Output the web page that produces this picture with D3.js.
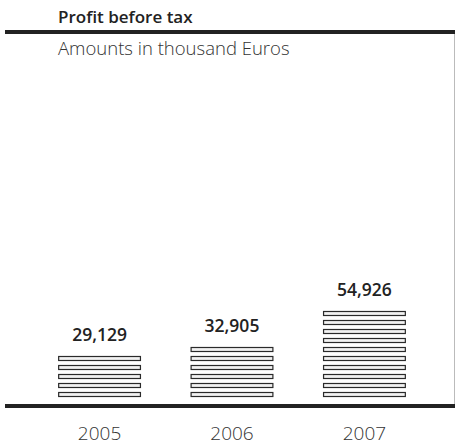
<!DOCTYPE html>
<html>
<head>
<meta charset="utf-8">
<script src="https://cdn.jsdelivr.net/npm/d3@7"></script>
<style>
  body { margin: 0; background: #fff; }
  text { font-family: "Open Sans", "Noto Sans", sans-serif; fill: #222; }
</style>
</head>
<body>
<div id="chart-area"></div>
<script>
const years = ['2005', '2006', '2007'];
const profits = [29129, 32905, 54926];
const title = 'Profit before tax';
const subtitle = 'Amounts in thousand Euros';

const chartSize = { width: 455, height: 448 };
const baseY = 399;
const pitch = 9;

const svg = d3.select('#chart-area').append('svg')
  .attr('width', chartSize.width)
  .attr('height', chartSize.height);

svg.append('text')
  .attr('x', 58).attr('y', 23)
  .style('font-size', '17px').style('font-weight', 600)
  .text(title);

svg.append('text')
  .attr('x', 58).attr('y', 55)
  .style('font-size', '18.5px').style('font-weight', 300).style('fill', '#333')
  .text(subtitle);

// frame lines
svg.append('line')
  .attr('x1', 454.5).attr('x2', 454.5).attr('y1', 32).attr('y2', 405)
  .attr('stroke', '#bbb').attr('stroke-width', 1);
svg.append('line')
  .attr('x1', 5).attr('x2', 455).attr('y1', 32).attr('y2', 32)
  .attr('stroke', '#222').attr('stroke-width', 4);

const x = d3.scaleBand()
  .domain(years)
  .range([33, 431])
  .paddingInner(0.375)
  .paddingOuter(0.19);

const y = d3.scaleLinear()
  .domain([0, 54926])
  .range([baseY, baseY - 90]);

const data = years.map((yr, i) => ({ year: yr, value: profits[i] }));

const bars = svg.selectAll('.bar')
  .data(data)
  .enter().append('g')
  .attr('class', 'bar')
  .attr('transform', d => `translate(${x(d.year)},0)`);

// each bar is a stack of thin outlined stripes
bars.each(function (d) {
  const n = Math.round((y(0) - y(d.value)) / pitch);
  d.top = baseY - 6.5 - (n - 1) * pitch;
  d3.select(this).selectAll('rect')
    .data(d3.range(n))
    .enter().append('rect')
    .attr('x', 0.5)
    .attr('y', i => baseY - 6.5 - i * pitch)
    .attr('width', x.bandwidth() - 1)
    .attr('height', 4)
    .attr('fill', '#f2f2f2')
    .attr('stroke', '#2a2a2a')
    .attr('stroke-width', 1.2);
});

bars.append('text')
  .attr('x', x.bandwidth() / 2)
  .attr('y', d => d.top - 16)
  .attr('text-anchor', 'middle')
  .style('font-size', '17.5px').style('font-weight', 600)
  .text(d => d3.format(',')(d.value));

svg.append('line')
  .attr('x1', 5).attr('x2', 455).attr('y1', 406).attr('y2', 406)
  .attr('stroke', '#222').attr('stroke-width', 4);

const xAxis = d3.axisBottom(x).tickSize(0).tickPadding(0);
const axisG = svg.append('g')
  .attr('transform', 'translate(0,440)')
  .call(xAxis);
axisG.select('.domain').remove();
axisG.selectAll('text')
  .attr('dy', 0)
  .style('font-size', '19px')
  .style('font-weight', 300)
  .style('fill', '#333')
  .style('font-family', '"Open Sans", "Noto Sans", sans-serif');
</script>
</body>
</html>
